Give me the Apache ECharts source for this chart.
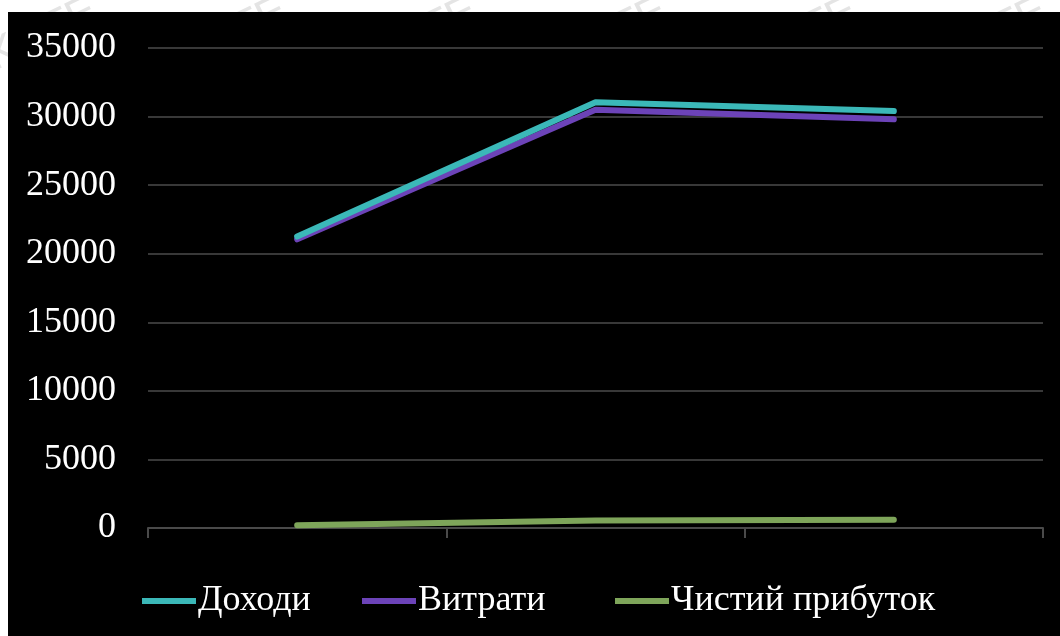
<!DOCTYPE html>
<html>
<head>
<meta charset="utf-8">
<script src="https://cdn.jsdelivr.net/npm/echarts@6/dist/echarts.min.js"></script>
<style>
  html, body { margin: 0; padding: 0; background: #ffffff; }
  #chart { width: 1060px; height: 636px; }
</style>
</head>
<body>
<div id="chart"></div>
<script>
// Periods along the x axis (no labels are shown for them)
const categories = ['', '', ''];

// Series values
const incomeValues = [21250, 31050, 30400];   // Доходи
const costValues = [21050, 30500, 29800];     // Витрати
const profitValues = [200, 550, 600];         // Чистий прибуток

// Value axis range
const yMin = 0;
const yMax = 35000;
const yStep = 5000;

const seriesNames = ['Доходи', 'Витрати', 'Чистий прибуток'];
const seriesColors = ['#3bb8b8', '#6c43b8', '#7ea55a'];
const seriesData = [incomeValues, costValues, profitValues];
const seriesZ = [4, 3, 2];
const legendLeft = [142, 362, 615];

const serif = '"Liberation Serif", "DejaVu Serif", serif';

const chart = echarts.init(document.getElementById('chart'));

// Faint diagonal marks in the white border around the dark panel
const marks = [];
const markWords = ['KNTE', 'KNTE', 'KNTE', 'KNTE', 'KNTE', 'KNTE'];
markWords.forEach((w, i) => {
  marks.push({
    type: 'text',
    x: -20 + i * 190,
    y: 40,
    rotation: Math.PI / 7,
    z: -10,
    style: { text: w, fill: '#e4e4e4', font: '44px "Liberation Sans", sans-serif' }
  });
});

chart.setOption({
  backgroundColor: '#ffffff',
  animation: false,
  graphic: marks.concat([
    {
      type: 'rect',
      z: -5,
      shape: { x: 8, y: 12, width: 1052, height: 624 },
      style: { fill: '#000000' }
    }
  ]),
  grid: { left: 148, right: 17, top: 48, bottom: 108 },
  // One legend block per series so each entry sits at its own spot
  legend: seriesNames.map((name, i) => ({
    bottom: 17,
    left: legendLeft[i],
    padding: 0,
    itemWidth: 54,
    itemHeight: 6,
    icon: 'rect',
    textStyle: { color: '#ffffff', fontFamily: serif, fontSize: 36, padding: [0, 0, 0, -3] },
    data: [name]
  })),
  xAxis: {
    type: 'category',
    data: categories,
    boundaryGap: true,
    axisLine: { lineStyle: { color: '#4a4a4a', width: 2 } },
    axisTick: { show: true, interval: 0, length: 10, lineStyle: { color: '#4a4a4a', width: 2 } },
    axisLabel: { show: false },
    splitLine: { show: false }
  },
  yAxis: {
    type: 'value',
    min: yMin,
    max: yMax,
    interval: yStep,
    axisLine: { show: false },
    axisTick: { show: false },
    axisLabel: {
      color: '#ffffff',
      fontFamily: serif,
      fontSize: 36,
      margin: 32,
      formatter: (v) => String(v)
    },
    splitLine: { lineStyle: { color: '#383838', width: 2 } }
  },
  series: seriesNames.map((name, i) => ({
    name: name,
    type: 'line',
    data: seriesData[i],
    symbol: 'none',
    z: seriesZ[i],
    color: seriesColors[i],
    lineStyle: { width: 6, color: seriesColors[i], cap: 'round', join: 'round' }
  }))
});
</script>
</body>
</html>
